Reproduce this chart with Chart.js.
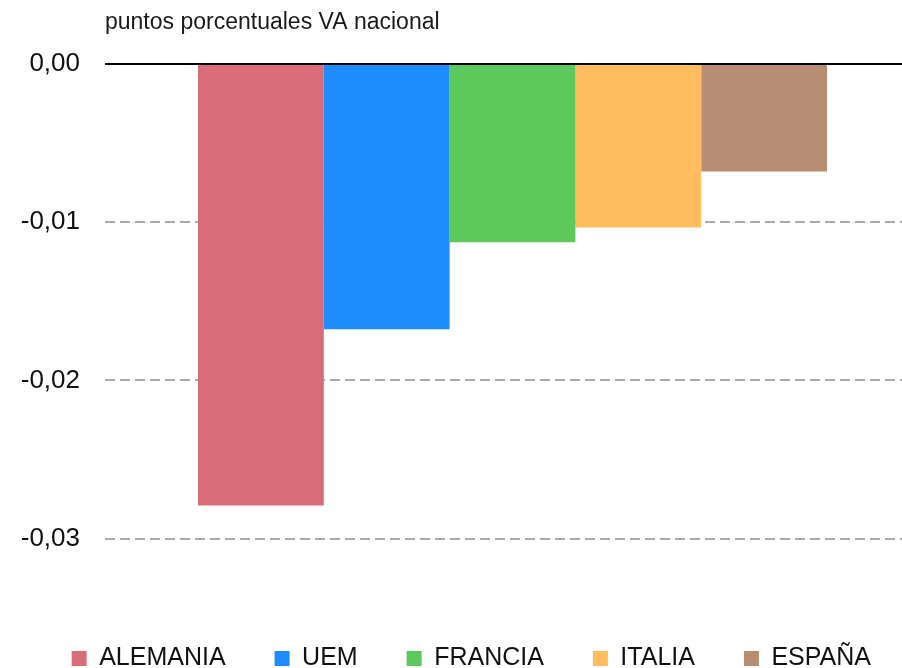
<!DOCTYPE html>
<html>
<head>
<meta charset="utf-8">
<script src="https://cdn.jsdelivr.net/npm/chart.js@4"></script>
<style>
  html, body { margin: 0; padding: 0; overflow: hidden; background: #fff; }
  #wrap { width: 920px; height: 681px; }
</style>
</head>
<body>
<div id="wrap"><canvas id="vaChart"></canvas></div>
<script>
const countries = ["ALEMANIA", "UEM", "FRANCIA", "ITALIA", "ESPAÑA"];
const values = [-0.0279, -0.01676, -0.01127, -0.01033, -0.0068];
const colors = ["#d96c79", "#1e8cff", "#5cc95c", "#ffbd5f", "#b78d73"];
const yTicks = [0, -0.01, -0.02, -0.03];
const unitLabel = "puntos porcentuales VA nacional";

const fontFamily = "'Liberation Sans', Arial, Helvetica, sans-serif";

// unit text above the plot, aligned with the plot's left edge
const unitText = {
  id: "unitText",
  afterDraw(chart) {
    const { ctx, chartArea } = chart;
    ctx.save();
    ctx.font = "23px " + fontFamily;
    ctx.fillStyle = "#1a1a1a";
    ctx.textAlign = "left";
    ctx.textBaseline = "middle";
    ctx.fillText(unitLabel, chartArea.left, 23);
    ctx.restore();
  },
};

const ctx = document.getElementById("vaChart");

new Chart(ctx, {
  type: "bar",
  data: {
    labels: [""],
    datasets: countries.map((name, i) => ({
      label: name,
      data: [values[i]],
      backgroundColor: colors[i],
      borderWidth: 0,
      categoryPercentage: 0.7718,
      barPercentage: 1,
    })),
  },
  options: {
    responsive: true,
    maintainAspectRatio: false,
    animation: false,
    layout: {
      padding: { top: 64, left: 0, right: 0, bottom: 0 },
    },
    plugins: {
      tooltip: { enabled: false },
      legend: {
        position: "bottom",
        align: "end",
        labels: {
          color: "#111",
          boxWidth: 15,
          boxHeight: 15,
          padding: 49,
          font: { family: fontFamily, size: 25 },
        },
      },
    },
    scales: {
      x: {
        display: false,
      },
      y: {
        min: -0.03369,
        max: 0,
        afterFit(scale) {
          scale.width = 105;
        },
        afterBuildTicks(scale) {
          scale.ticks = yTicks.map((v) => ({ value: v }));
        },
        ticks: {
          color: "#111",
          padding: 25,
          font: { family: fontFamily, size: 26 },
          callback: (v) => v.toFixed(2).replace(".", ","),
        },
        grid: {
          drawTicks: false,
          color: (c) => (c.tick && c.tick.value === 0 ? "#000" : "#aaaaaa"),
          lineWidth: 2,
        },
        border: {
          display: false,
          dash: (c) => (c.tick && c.tick.value === 0 ? [] : [10, 5]),
        },
      },
    },
  },
  plugins: [unitText],
});
</script>
</body>
</html>
